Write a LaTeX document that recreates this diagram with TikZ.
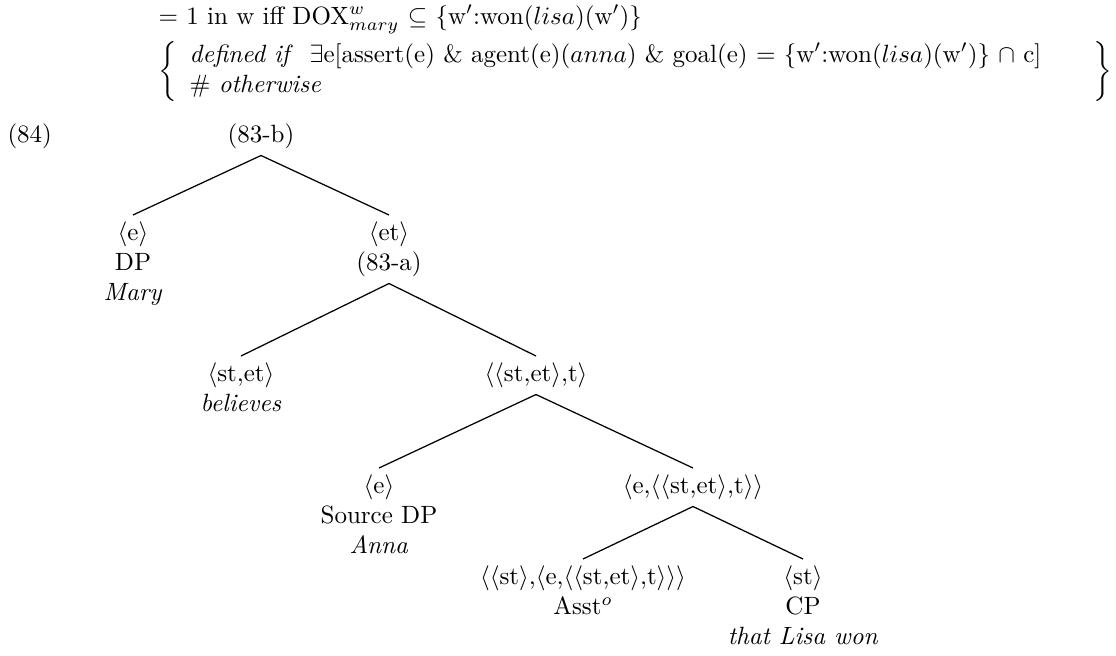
\documentclass[tikz,border=0pt]{standalone}
\usepackage{amsmath}
\begin{document}
\begin{tikzpicture}[x=0.4pt,y=-0.4pt,
  tn/.style={anchor=north,align=center,inner xsep=1pt,inner ysep=2.5pt},
  edge/.style={line width=0.5pt}]
\useasboundingbox (0,0) rectangle (1116,655);
% top formula
\node[anchor=base west,inner sep=0] (l1) at (158,24)
  {$=$ 1 in w iff DOX$^w_{mary}$ $\subseteq$ \{w$'$:won($lisa$)(w$'$)\}};
\node[anchor=west,inner sep=0] (cond) at (158,71)
  {$\left\{\begin{array}{l}
  \mbox{\textit{defined if}\ \ $\exists$e[assert(e) \& agent(e)($anna$) \& goal(e) $=$ \{w$'$:won($lisa$)(w$'$)\} $\cap$ c]}\\
  \mbox{\# \textit{otherwise}}
  \end{array}\hspace{16pt}\right\}$};
% example number
\node[anchor=base west,inner sep=0] (ex) at (7,142) {(84)};
% tree
\node[tn] (root) at (261,117) {(83-b)};
\node[tn] (dp) at (133,215) {$\langle$e$\rangle$\\DP\\\textit{Mary}};
\node[tn] (et) at (389,215) {$\langle$et$\rangle$\\(83-a)};
\node[tn] (bel) at (241,356) {$\langle$st,et$\rangle$\\\textit{believes}};
\node[tn] (stett) at (536,356) {$\langle\langle$st,et$\rangle$,t$\rangle$};
\node[tn] (src) at (379,468) {$\langle$e$\rangle$\\Source DP\\\textit{Anna}};
\node[tn] (eterm) at (693,468) {$\langle$e,$\langle\langle$st,et$\rangle$,t$\rangle\rangle$};
\node[tn] (asst) at (583,559) {$\langle\langle$st$\rangle$,$\langle$e,$\langle\langle$st,et$\rangle$,t$\rangle\rangle\rangle$\\Asst$^o$};
\node[tn] (cp) at (803,559) {$\langle$st$\rangle$\\CP\\\textit{that Lisa won}};
\draw[edge] (root.south) -- (dp.north);
\draw[edge] (root.south) -- (et.north);
\draw[edge] (et.south) -- (bel.north);
\draw[edge] (et.south) -- (stett.north);
\draw[edge] (stett.south) -- (src.north);
\draw[edge] (stett.south) -- (eterm.north);
\draw[edge] (eterm.south) -- (asst.north);
\draw[edge] (eterm.south) -- (cp.north);
\end{tikzpicture}
\end{document}
